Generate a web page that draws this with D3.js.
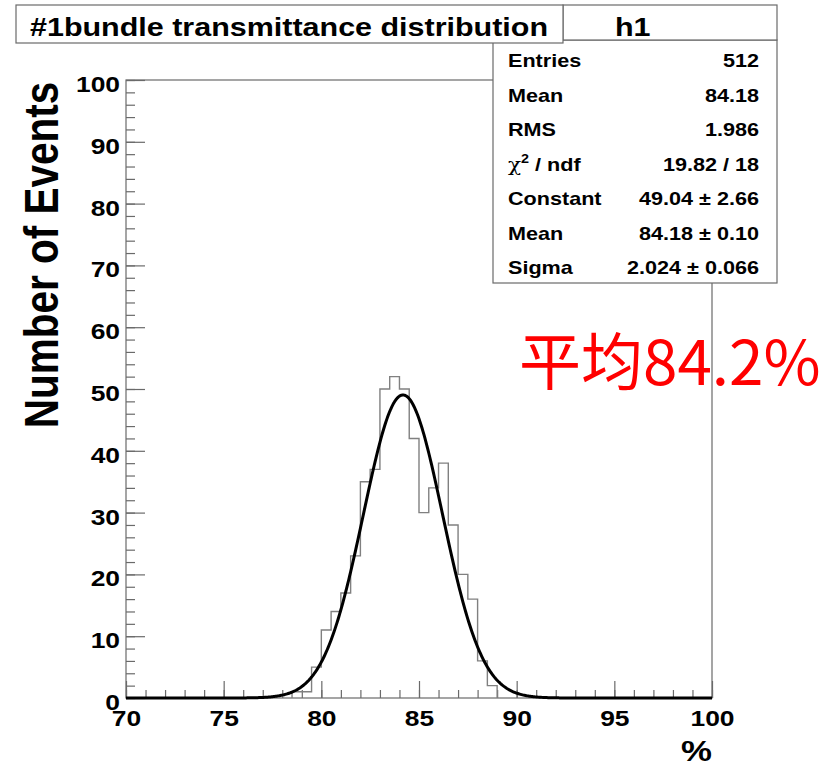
<!DOCTYPE html>
<html><head><meta charset="utf-8">
<script src="https://cdn.jsdelivr.net/npm/d3@7"></script>
<style>body{margin:0;background:#fff}</style>
</head><body>
<svg id="c" width="823" height="764"></svg>
<script>
// ---- data ----
const binWidth = 0.5;
const binLow = [78.5,79,79.5,80,80.5,81,81.5,82,82.5,83,83.5,84,84.5,85,85.5,86,86.5,87,87.5,88,88.5];
const binCounts = [1,1,5,11,14,17,23,35,37,50,52,50,42,30,34,38,28,20,16,6,2];
const fitParams = [49.04, 84.18, 2.024]; // Constant, Mean, Sigma
const xMajorTicks = [70,75,80,85,90,95,100];
const xTickLabels = ["70","75","80","85","90","95","100"];
const yMajorTicks = [0,10,20,30,40,50,60,70,80,90,100];
const yTickLabels = ["0","10","20","30","40","50","60","70","80","90","100"];
const statLabels = ["Entries","Mean","RMS","chi","Constant","Mean","Sigma"];
const statValues = ["512","84.18","1.986","19.82 / 18","49.04 \u00b1 2.66","84.18 \u00b1 0.10","2.024 \u00b1 0.066"];
const titleText = "#1bundle transmittance distribution";
const histName = "h1";
const yTitle = "Number of Events";
const xTitle = "%";
const note = "平均84.2%";

// ---- layout ----
const svg = d3.select("#c");
const FONT = "'Liberation Sans', Arial, Helvetica, sans-serif";
const GRAY = "#6a6a6a";
const SX = 1.2;
const x = d3.scaleLinear().domain([70,100]).range([126,712]);
const y = d3.scaleLinear().domain([0,100]).range([698,80]);

// red annotation (under frame)
svg.append("text").attr("x",519).attr("y",385)
  .attr("font-family","'Noto Sans CJK SC', sans-serif").attr("font-size",62)
  .attr("fill","#ff0000").text(note);

// frame
svg.append("rect").attr("x",x(70)).attr("y",y(100))
  .attr("width",x(100)-x(70)).attr("height",y(0)-y(100))
  .attr("fill","none").attr("stroke",GRAY).attr("stroke-width",1.2);

// axes ticks
const xMinor = d3.range(70,101,1);
const yMinor = d3.range(0,101,2);
const gxm = svg.append("g").attr("transform",`translate(0,${y(0)})`)
  .call(d3.axisBottom(x).tickValues(xMinor).tickSize(-8).tickFormat("").tickSizeOuter(0));
const gx = svg.append("g").attr("transform",`translate(0,${y(0)})`)
  .call(d3.axisBottom(x).tickValues(xMajorTicks).tickSize(-17).tickPadding(12)
    .tickFormat((d,i)=>xTickLabels[i]).tickSizeOuter(0));
const gym = svg.append("g").attr("transform",`translate(${x(70)},0)`)
  .call(d3.axisLeft(y).tickValues(yMinor).tickSize(-9).tickFormat("").tickSizeOuter(0));
const gy = svg.append("g").attr("transform",`translate(${x(70)},0)`)
  .call(d3.axisLeft(y).tickValues(yMajorTicks).tickSize(-19).tickPadding(5)
    .tickFormat((d,i)=>yTickLabels[i]).tickSizeOuter(0));
[gxm,gx,gym,gy].forEach(g=>{
  g.select(".domain").remove();
  g.selectAll("line").attr("stroke",GRAY).attr("stroke-width",1.2);
  g.selectAll("text").attr("font-family",FONT).attr("font-weight","bold")
    .attr("font-size",22).attr("fill","#000");
});
gx.selectAll("text").attr("transform",`scale(${SX},1)`);
gy.selectAll("text").attr("dy","0.52em").attr("transform",`scale(${SX},1)`);

// histogram
const pts = [[binLow[0],0]];
binLow.forEach((lo,i)=>{pts.push([lo,binCounts[i]]);pts.push([lo+binWidth,binCounts[i]]);});
pts.push([binLow[binLow.length-1]+binWidth,0]);
svg.append("path").attr("d",d3.line().x(d=>x(d[0])).y(d=>y(d[1]))(pts))
  .attr("fill","none").attr("stroke","#808080").attr("stroke-width",1.4);

// fit curve
const [A,mu,sg] = fitParams;
const fx = d3.range(70,100.0001,0.05);
svg.append("path").attr("d",d3.line().x(d=>x(d)).y(d=>y(A*Math.exp(-0.5*((d-mu)/sg)**2)))(fx))
  .attr("fill","none").attr("stroke","#000").attr("stroke-width",3).attr("stroke-linejoin","round");

// axis titles
svg.append("text").attr("transform",`translate(58,255) scale(${SX},1) rotate(-90)`)
  .attr("text-anchor","middle").attr("font-family",FONT).attr("font-weight","bold")
  .attr("font-size",40.5).text(yTitle);
svg.append("text").attr("transform",`translate(712,761) scale(${SX},1)`)
  .attr("text-anchor","end").attr("font-family",FONT).attr("font-weight","bold")
  .attr("font-size",29).text(xTitle);

// boxes
function box(x0,y0,w,h){
  svg.append("rect").attr("x",x0).attr("y",y0).attr("width",w).attr("height",h)
    .attr("fill","#fff").attr("stroke",GRAY).attr("stroke-width",1.2);
}
box(493,40,284,243);
box(563,5,214,35);
box(16,5,547,38);

function stext(tx,ty,anchor,size,str){
  return svg.append("text").attr("transform",`translate(${tx},${ty}) scale(${SX},1)`)
    .attr("text-anchor",anchor).attr("font-family",FONT).attr("font-weight","bold")
    .attr("font-size",size).text(str);
}
stext(30,36,"start",25.4,titleText);
stext(615,36,"start",25.4,histName);

const rowY = [67,101.5,136,170.5,205,239.5,274];
statLabels.forEach((lab,i)=>{
  if(lab==="chi"){
    const t = svg.append("text").attr("transform",`translate(508,${rowY[i]}) scale(${SX},1)`)
      .attr("font-family",FONT).attr("font-weight","bold").attr("font-size",18);
    t.append("tspan").attr("font-family","'DejaVu Serif', serif").attr("font-weight","normal").text("\u03c7");
    t.append("tspan").attr("font-size",12).attr("dy",-8).text("2");
    t.append("tspan").attr("dy",8).text(" / ndf");
  } else {
    stext(508,rowY[i],"start",18,lab);
  }
  stext(759,rowY[i],"end",18,statValues[i]);
});
</script>
</body></html>
